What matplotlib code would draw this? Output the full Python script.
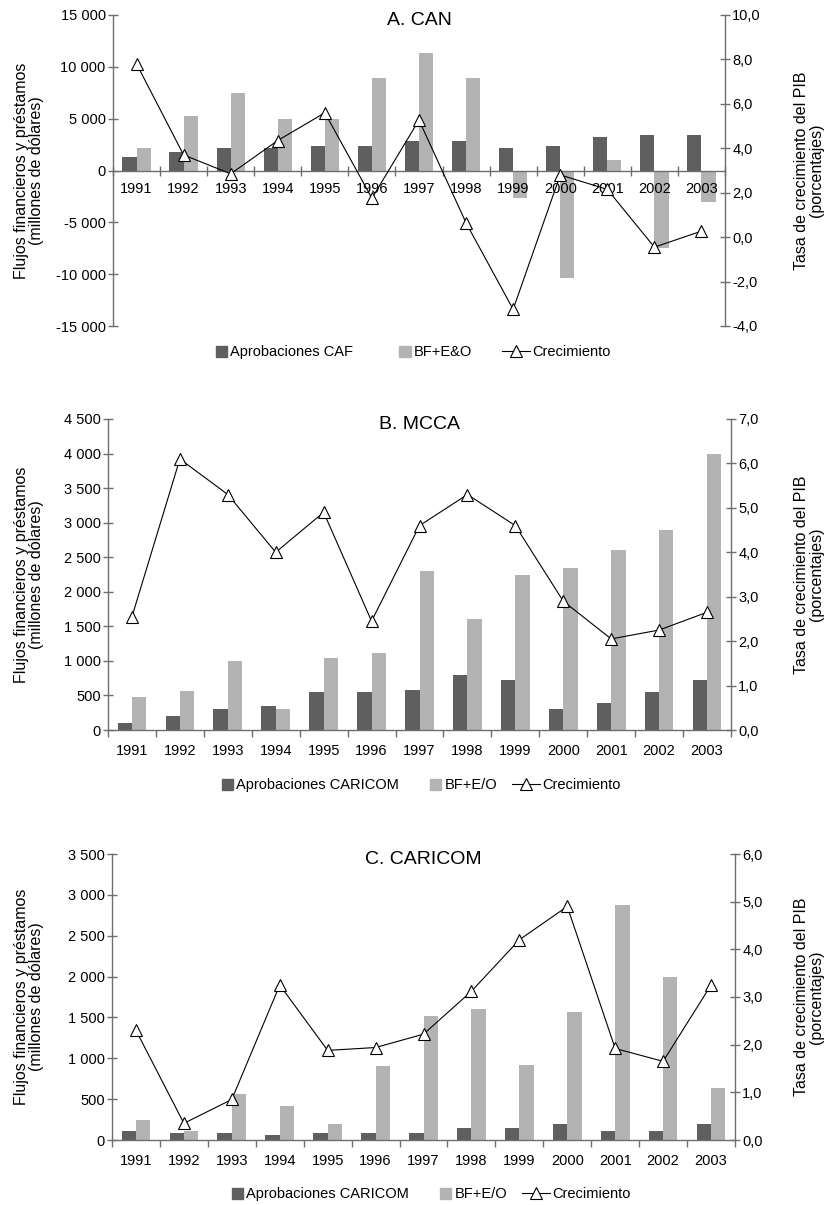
import matplotlib
matplotlib.use("Agg")
import matplotlib.pyplot as plt
from matplotlib.ticker import FuncFormatter
from matplotlib.patches import Patch, Rectangle
from matplotlib.lines import Line2D
from matplotlib.legend_handler import HandlerPatch
import numpy as np

# ------------------------------------------------------------------ data
years = [str(y) for y in range(1991, 2004)]

# A. CAN
can_aprob = [1300, 1800, 2200, 2200, 2400, 2400, 2800, 2800, 2200, 2400, 3200, 3400, 3400]
can_bf = [2200, 5300, 7500, 5000, 5000, 8900, 11300, 8900, -2700, -10400, 1000, -7500, -3000]
can_crec = [7.8, 3.7, 2.85, 4.35, 5.6, 1.75, 5.27, 0.64, -3.25, 2.8, 2.15, -0.45, 0.27]

# B. MCCA
mcca_aprob = [100, 200, 300, 350, 550, 550, 575, 790, 730, 300, 390, 550, 730]
mcca_bf = [480, 570, 1000, 300, 1040, 1120, 2300, 1610, 2250, 2350, 2600, 2900, 4000]
mcca_crec = [2.55, 6.1, 5.3, 4.0, 4.9, 2.45, 4.6, 5.3, 4.6, 2.9, 2.05, 2.25, 2.65]

# C. CARICOM
car_aprob = [110, 85, 85, 65, 85, 85, 85, 150, 150, 200, 110, 110, 200]
car_bf = [250, 110, 560, 410, 200, 900, 1520, 1600, 920, 1570, 2870, 1990, 640]
car_crec = [2.3, 0.35, 0.85, 3.25, 1.88, 1.94, 2.22, 3.12, 4.2, 4.9, 1.92, 1.65, 3.25]

# ------------------------------------------------------------------ style
plt.rcParams["font.family"] = ["Liberation Sans", "DejaVu Sans"]

dark = "#5f5f5f"
light = "#b3b3b3"
axis_col = "#6e6e6e"
tick_fs = 10.5
leg_fs = 10.5


def thousands(v, pos):
    return "{:,}".format(int(round(v))).replace(",", " ")


def comma1(v, pos):
    return "{:.1f}".format(v).replace(".", ",")


# square legend patch, pushed to the right end of the handle box
def square_patch(legend, orig_handle, xdescent, ydescent, width, height, fontsize):
    s = 0.78 * fontsize
    return Rectangle((width - s - xdescent, -ydescent + (height - s) / 2), s, s)


fig = plt.figure(figsize=(8.24, 12.05), dpi=100)
W, H = 824.0, 1205.0


def panel(px, title, aprob, bf, crec, ylim, ystep, rlim, rstep, lab1, lab2,
          legend_xy, colspace, zero_axis):
    l, r, t, b = px
    ax = fig.add_axes([l / W, 1 - b / H, (r - l) / W, (b - t) / H])
    ax2 = ax.twinx()
    x = np.arange(len(years))
    w = 0.3
    ax.bar(x - w / 2, aprob, width=w, color=dark, zorder=1)
    ax.bar(x + w / 2, bf, width=w, color=light, zorder=1)
    ax2.plot(x, crec, color="black", lw=0.8, marker="^", ms=9,
             mfc="white", mec="black", mew=0.8, zorder=3, clip_on=False)

    ax.set_xlim(-0.5, len(years) - 0.5)
    ax.set_ylim(*ylim)
    ax.set_yticks(np.arange(ylim[0], ylim[1] + 1, ystep))
    ax.yaxis.set_major_formatter(FuncFormatter(thousands))
    ax2.set_ylim(*rlim)
    ax2.set_yticks(np.arange(rlim[0], rlim[1] + 0.001, rstep))
    ax2.yaxis.set_major_formatter(FuncFormatter(comma1))

    for a in (ax, ax2):
        a.spines["top"].set_visible(False)
        for s in ("left", "right", "bottom"):
            a.spines[s].set_color(axis_col)
            a.spines[s].set_linewidth(1.0)
    ax2.spines["bottom"].set_visible(False)
    ax2.spines["left"].set_visible(False)
    ax.spines["right"].set_visible(False)

    if zero_axis:
        ax.spines["bottom"].set_position(("data", 0))

    # boundary ticks without labels, year labels at centres
    ax.set_xticks(np.arange(-0.5, len(years), 1.0))
    ax.set_xticklabels([])
    ax.set_xticks(x, minor=True)
    ax.set_xticklabels(years, minor=True)
    ax.tick_params(axis="x", which="major", length=6.5 if zero_axis else 5,
                   width=1.0, color=axis_col,
                   direction="inout" if zero_axis else "out")
    ax.tick_params(axis="x", which="minor", length=0, labelsize=tick_fs,
                   pad=8.5 if zero_axis else 10)
    ax.tick_params(axis="y", length=6.5, width=1.0, color=axis_col,
                   direction="inout", labelsize=tick_fs, pad=2)
    ax2.tick_params(axis="y", length=6.5, width=1.0, color=axis_col,
                    direction="inout", labelsize=tick_fs, pad=2)

    ax.text(0.5, 1.0 + 3.0 / (b - t), title, transform=ax.transAxes,
            ha="center", va="top", fontsize=14)

    yc = 1 - (t + b) / 2 / H
    fig.text(29 / W, yc, "Flujos financieros y préstamos\n(millones de dólares)",
             rotation=90, ha="center", va="center", multialignment="center",
             fontsize=11.5, linespacing=1.0)
    fig.text(809 / W, yc, "Tasa de crecimiento del PIB\n(porcentajes)",
             rotation=90, ha="center", va="center", multialignment="center",
             fontsize=11.5, linespacing=1.0)

    handles = [Patch(color=dark, label=lab1), Patch(color=light, label=lab2),
               Line2D([], [], color="black", lw=0.8, marker="^", ms=8,
                      mfc="white", mec="black", mew=0.8, label="Crecimiento")]
    fig.legend(handles=handles, loc="center", ncol=3, frameon=False,
               bbox_to_anchor=(legend_xy[0] / W, 1 - legend_xy[1] / H),
               fontsize=leg_fs, handlelength=1.92, handleheight=1.0,
               handletextpad=0.2, columnspacing=colspace,
               handler_map={Patch: HandlerPatch(patch_func=square_patch)})
    return ax


panel((113, 725, 15, 326), "A. CAN", can_aprob, can_bf, can_crec,
      (-15000, 15000), 5000, (-4, 10), 2, "Aprobaciones CAF", "BF+E&O",
      (405, 352), 2.05, True)
panel((108, 731, 419, 730), "B. MCCA", mcca_aprob, mcca_bf, mcca_crec,
      (0, 4500), 500, (0, 7), 1, "Aprobaciones CARICOM", "BF+E/O",
      (413, 785), 1.0, False)
panel((112, 735, 854, 1140), "C. CARICOM", car_aprob, car_bf, car_crec,
      (0, 3500), 500, (0, 6), 1, "Aprobaciones CARICOM", "BF+E/O",
      (423, 1194), 1.0, False)

plt.savefig("out.png", dpi=100)
